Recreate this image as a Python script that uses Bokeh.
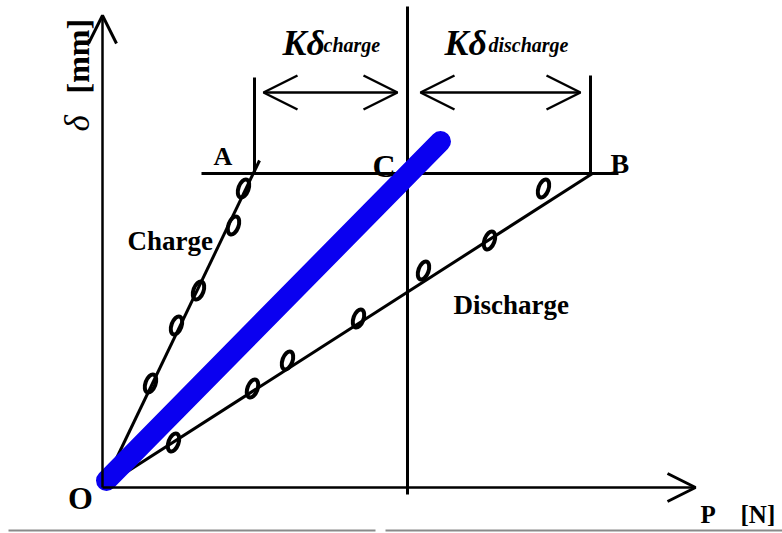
import math
from bokeh.plotting import figure
from bokeh.models import Range1d, Arrow, OpenHead
from bokeh.core.properties import value
from bokeh.embed import file_html
from bokeh.resources import INLINE

# ---- data (P, delta) in drawing units, origin O at (0, 0) ----
charge_P = [48, 74, 96, 131, 141]
charge_delta = [104, 162, 197, 262, 299]
discharge_P = [71, 150, 185, 256, 321, 387, 441]
discharge_delta = [45, 99, 127, 169, 217, 247, 299]

charge_line_P = [0, 157]
charge_line_delta = [0, 327]
discharge_line_P = [0, 490]
discharge_line_delta = [0, 314]
ideal_line_P = [4, 338]
ideal_line_delta = [7, 346]

axis_P_max = 593
axis_delta_max = 472

level_delta = 314                 # horizontal line through A, C, B
level_P = [99, 516]
A_P, B_P, C_P = 152, 488, 305
tick_top = [410, 412]             # tops of A and B ticks
C_line_delta = [-7, 481]
arrow_delta = 395
charge_arrow_P = [161, 295]
discharge_arrow_P = [318, 478]

rule_delta = -43                  # grey rule under the figure
rule_left_P = [-94, 273]
rule_right_P = [283, 680]

FONT = value("Liberation Serif")

p = figure(width=782, height=533, output_backend="svg", toolbar_location=None,
           x_axis_type=None, y_axis_type=None, min_border=0,
           x_range=Range1d(-102, 680), y_range=Range1d(-46, 487))
p.grid.visible = False
p.outline_line_color = None
p.background_fill_color = "white"
p.border_fill_color = "white"

# axes with arrows
p.add_layout(Arrow(end=OpenHead(size=28, line_width=3, line_color="black"),
                   x_start=0, y_start=0, x_end=axis_P_max, y_end=0,
                   line_width=2.5, line_color="black"))
p.add_layout(Arrow(end=OpenHead(size=28, line_width=3, line_color="black"),
                   x_start=0, y_start=0, x_end=0, y_end=axis_delta_max,
                   line_width=2.5, line_color="black"))

# vertical line through C
p.line([C_P, C_P], C_line_delta, line_width=3, line_color="black")
# horizontal level line
p.line(level_P, [level_delta, level_delta], line_width=3, line_color="black")
# ticks at A and B
p.line([A_P, A_P], [level_delta, tick_top[0]], line_width=3, line_color="black")
p.line([B_P, B_P], [level_delta, tick_top[1]], line_width=3, line_color="black")

# double arrows
for xs in (charge_arrow_P, discharge_arrow_P):
    p.add_layout(Arrow(start=OpenHead(size=34, line_width=2.5, line_color="black"),
                       end=OpenHead(size=34, line_width=2.5, line_color="black"),
                       x_start=xs[0], y_start=arrow_delta, x_end=xs[1], y_end=arrow_delta,
                       line_width=2.5, line_color="black"))

# charge / discharge lines
p.line(charge_line_P, charge_line_delta, line_width=3, line_color="black")
p.line(discharge_line_P, discharge_line_delta, line_width=3, line_color="black")

# measured points
p.ellipse(charge_P, charge_delta, width=10, height=19, angle=-0.35,
          width_units="screen", height_units="screen",
          fill_color=None, line_color="black", line_width=4)
p.ellipse(discharge_P, discharge_delta, width=10, height=19, angle=-0.35,
          width_units="screen", height_units="screen",
          fill_color=None, line_color="black", line_width=4)

# ideal (blue) line
p.line(ideal_line_P, ideal_line_delta, line_width=21, line_color="#0a00f0",
       line_cap="round")

# grey rule at the bottom
p.line(rule_left_P, [rule_delta, rule_delta], line_width=2, line_color="#8a8a8a")
p.line(rule_right_P, [rule_delta, rule_delta], line_width=2, line_color="#8a8a8a")

# labels
def label(x, y, t, size, style="bold", align="left", baseline="alphabetic", angle=0.0):
    p.text(x=[x], y=[y], text=[t], text_font=FONT, text_font_size=f"{size}px",
           text_font_style=style, text_align=align, text_baseline=baseline,
           text_color="black", angle=angle)

label(180, 445, "Kδ", 36, "bold italic")
label(221, 443, "charge", 20, "bold italic")
label(342, 445, "Kδ", 36, "bold italic")
label(386, 443, "discharge", 20, "bold italic")

label(111, 331, "A", 26)
label(270, 322, "C", 32)
label(508, 324, "B", 28)
label(-22, -10, "O", 32, align="center", baseline="middle")
label(598, -27, "P", 25)
label(638, -27, "[N]", 25)
label(25, 247, "Charge", 27)
label(351, 183, "Discharge", 27)

label(-25, 356, "δ", 35, "italic", angle=math.pi / 2)
label(-25, 394, "[mm]", 32, "bold", angle=math.pi / 2)

open("out.html", "w").write(file_html(p, INLINE))
